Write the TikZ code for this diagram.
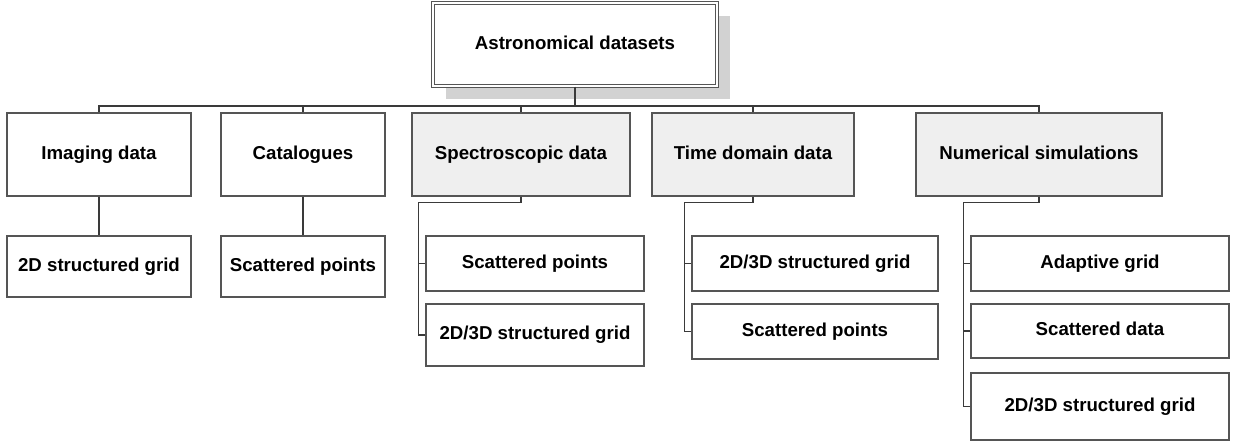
\documentclass[tikz,border=0pt]{standalone}
\usepackage{fontspec}
\setmainfont{Liberation Sans}
\usetikzlibrary{calc,shadows}
\definecolor{boxline}{HTML}{555555}
\definecolor{linkline}{HTML}{3A3A3A}
\definecolor{boxfill}{HTML}{EFEFEF}
\definecolor{shadowfill}{HTML}{D2D2D2}

\begin{document}
\begin{tikzpicture}[x=0.75pt,y=-0.75pt,
	box/.style={rectangle,draw=boxline,line width=1.1pt,fill=white,inner sep=0pt,
		text height=10pt,text depth=3pt,font=\fontsize{14}{16}\selectfont\bfseries},
	catbox/.style={box,fill=boxfill},
	link/.style={draw=linkline,line width=1.1pt}]
	\useasboundingbox (0,0) rectangle (1239,441);
	% root
	\node[box,line width=0.8pt,double=white,double distance=1.2pt,
		drop shadow={shadow xshift=9.75pt,shadow yshift=-9.75pt,fill=shadowfill,opacity=1},
		minimum width=284*0.75pt,minimum height=83*0.75pt] (root) at (575,44.5) {Astronomical datasets};
	% first level
	\node[box,minimum width=184*0.75pt,minimum height=83*0.75pt] (img) at (99,154.5) {Imaging data};
	\node[box,minimum width=164*0.75pt,minimum height=83*0.75pt] (cat) at (303,154.5) {Catalogues};
	\node[catbox,minimum width=218*0.75pt,minimum height=83*0.75pt] (spec) at (521,154.5) {Spectroscopic data};
	\node[catbox,minimum width=202*0.75pt,minimum height=83*0.75pt] (time) at (753,154.5) {Time domain data};
	\node[catbox,minimum width=246*0.75pt,minimum height=83*0.75pt] (num) at (1039,154.5) {Numerical simulations};
	% second level
	\node[box,minimum width=184*0.75pt,minimum height=61*0.75pt] (img1) at (99,266.5) {2D structured grid};
	\node[box,minimum width=164*0.75pt,minimum height=61*0.75pt] (cat1) at (303,266.5) {Scattered points};
	\node[box,minimum width=218*0.75pt,minimum height=55*0.75pt] (spec1) at (535,263.5) {Scattered points};
	\node[box,minimum width=218*0.75pt,minimum height=62*0.75pt] (spec2) at (535,335) {2D/3D structured grid};
	\node[box,minimum width=246*0.75pt,minimum height=55*0.75pt] (time1) at (815,263.5) {2D/3D structured grid};
	\node[box,minimum width=246*0.75pt,minimum height=55*0.75pt] (time2) at (815,331.5) {Scattered points};
	\node[box,minimum width=258*0.75pt,minimum height=55*0.75pt] (num1) at (1100,263.5) {Adaptive grid};
	\node[box,minimum width=258*0.75pt,minimum height=54*0.75pt] (num2) at (1100,331) {Scattered data};
	\node[box,minimum width=258*0.75pt,minimum height=67*0.75pt] (num3) at (1100,406.5) {2D/3D structured grid};
	% bus
	\coordinate (bus) at (575,106);
	\draw[link] (root.south) -- (bus);
	\foreach \N in {img,cat,spec,time,num}
		\draw[link] (\N.north) |- (bus);
	\draw[link] (img.south) -- (img1.north);
	\draw[link] (cat.south) -- (cat1.north);
	% side trunks
	\foreach \P/\L in {spec/spec2,time/time2,num/num3}
		\draw[link] (\P.south) -- ++(0,6) -| ($(\L.west)+(-7,0)$) -- (\L.west);
	\foreach \C in {spec1,time1,num1,num2}
		\draw[link] ($(\C.west)+(-7,0)$) -- (\C.west);
\end{tikzpicture}
\end{document}
